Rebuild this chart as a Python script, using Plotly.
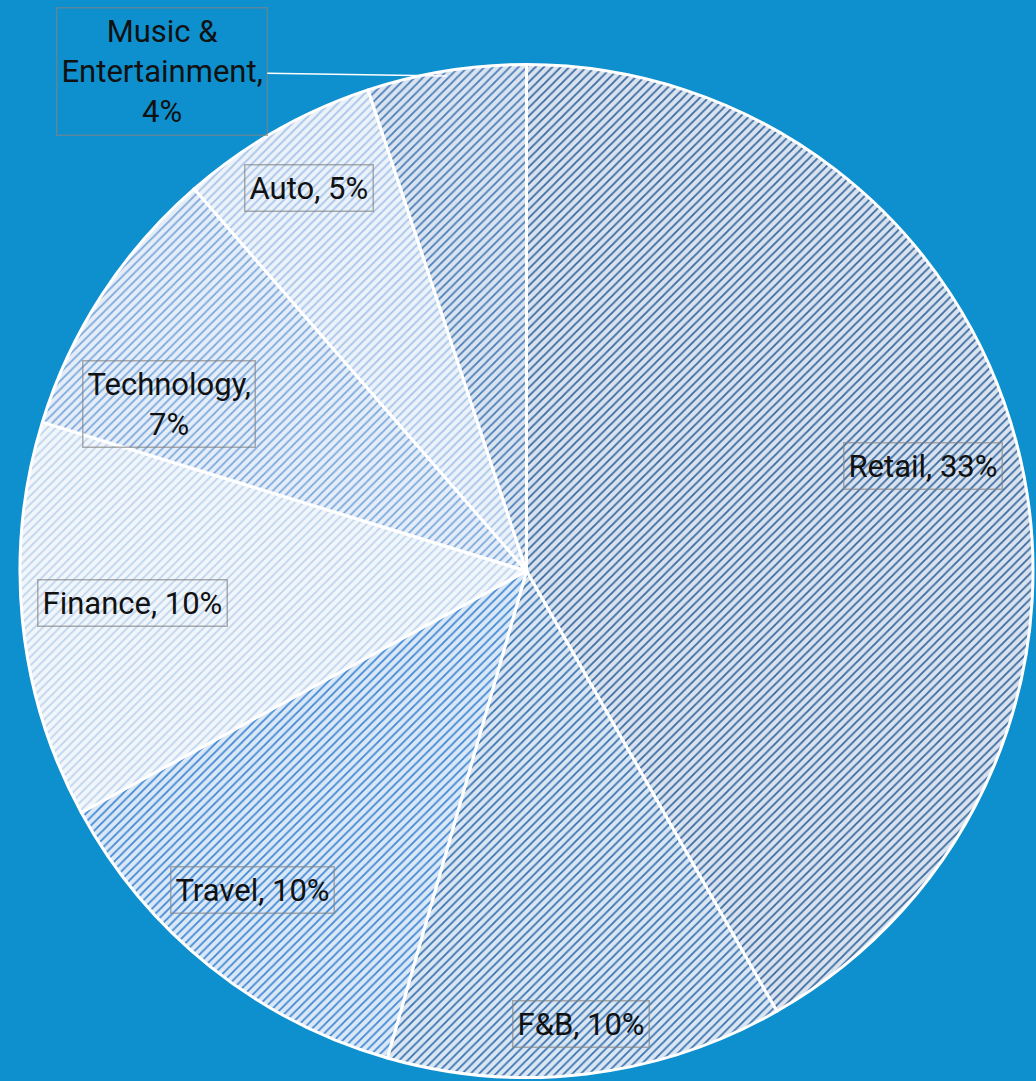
import math
import plotly.graph_objects as go

# ---- data ----
categories = ["Retail", "F&B", "Travel", "Finance", "Technology", "Auto", "Music & Entertainment"]
values = [33, 10, 10, 10, 7, 5, 4]
label_texts = ["Retail, 33%", "F&B, 10%", "Travel, 10%", "Finance, 10%",
               "Technology,<br>7%", "Auto, 5%", "Music &<br>Entertainment,<br>4%"]

# ---- styles ----
fg_colors = ["#3a6aa0", "#3b74b2", "#4189d6", "#bfd4ed", "#7ca8dc", "#a8c4e7", "#4c7db8"]
bg_colors = ["#d9e3ef", "#dae6f2", "#dbe8f6", "#f1f6fb", "#e5eef8", "#ebf2fa", "#d9e4f0"]
label_radius = [0.81, 0.90, 0.83, 0.78, 0.78, 0.87, None]   # fraction of pie radius
label_angle_shift = [0, 0, 2, 1, -8, 0, 0]                   # degrees
BG = "#0e8fce"
W, H = 1036, 1081
CX, CY, R = 526.5, 571.0, 506.5   # pie centre / radius in pixels

fig = go.Figure(go.Pie(
    labels=categories,
    values=values,
    sort=False,
    direction="clockwise",
    rotation=0,
    textinfo="none",
    hoverinfo="skip",
    showlegend=False,
    marker=dict(
        colors=bg_colors,
        line=dict(color="white", width=3),
        pattern=dict(shape="/", fgcolor=fg_colors, bgcolor=bg_colors,
                     size=6, solidity=0.3, fillmode="replace"),
    ),
    domain=dict(x=[(CX - R) / W, (CX + R) / W],
                y=[(H - CY - R) / H, (H - CY + R) / H]),
))

total = sum(values)
cum = 0.0
annotations = []
font = dict(family="Roboto", size=31, color="#111111")
border = dict(bordercolor="rgba(130,130,130,0.65)", borderwidth=1.5, borderpad=4)
for cat, v, txt, rf, sh in zip(categories, values, label_texts, label_radius, label_angle_shift):
    mid = (cum + v / 2) / total * 2 * math.pi
    cum += v
    if rf is not None:
        a = mid + math.radians(sh)
        px = CX + rf * R * math.sin(a)
        py = CY - rf * R * math.cos(a)
        annotations.append(dict(
            x=px / W, y=1 - py / H, xref="paper", yref="paper",
            text=txt, showarrow=False, font=font,
            xanchor="center", yanchor="middle", align="center", **border))
    else:
        tipx = CX + 0.99 * R * math.sin(mid)
        tipy = CY - 0.99 * R * math.cos(mid)
        annotations.append(dict(
            x=tipx / W, y=1 - tipy / H, xref="paper", yref="paper",
            text=txt, showarrow=True, arrowhead=0, arrowwidth=1.5, arrowcolor="white",
            ax=-285, ay=-4, font=font, align="center", **border))

fig.update_layout(
    width=W, height=H,
    margin=dict(l=0, r=0, t=0, b=0),
    paper_bgcolor=BG, plot_bgcolor=BG,
    annotations=annotations,
)

fig.write_html("out.html")
